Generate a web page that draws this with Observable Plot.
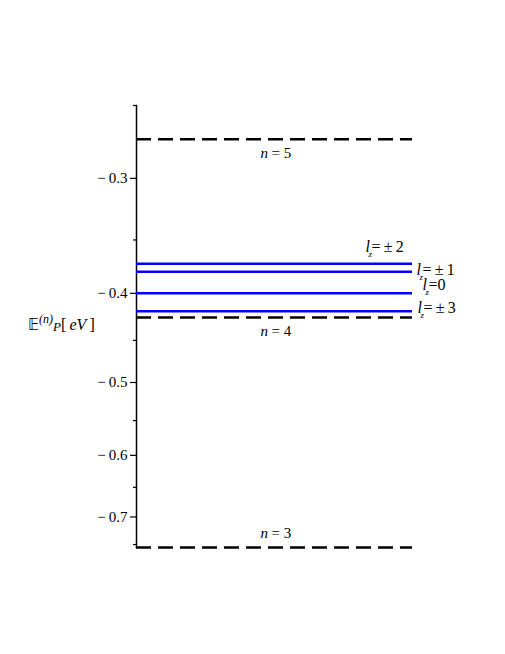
<!DOCTYPE html>
<html><head><meta charset="utf-8">
<script src="https://cdn.jsdelivr.net/npm/d3@7"></script>
<script src="https://cdn.jsdelivr.net/npm/@observablehq/plot@0.6"></script>
<style>
body{margin:0;background:#fff}
#wrap{position:relative;width:505px;height:654px}
#chart svg, #chart svg text{font-family:'Liberation Serif','Times New Roman',serif !important}
#ytitle{position:absolute;left:28px;top:313px;font-family:'Liberation Serif','Times New Roman',serif;font-size:16px;color:#000;white-space:nowrap;line-height:1}
#ytitle .bb{font-family:'DejaVu Sans',serif;font-size:15px}
#ytitle i{font-style:italic}
#ytitle sup{font-size:12px;vertical-align:7px}
#ytitle .p{font-size:13px;vertical-align:-1px}
</style>
</head><body>
<div id="wrap"><div id="chart"></div>
<div id="ytitle"><span class="bb">𝔼</span><sup><i>(n)</i></sup><i class="p">P</i>[&#8201;<i>eV</i>&#8201;]</div>
</div>
<script>
// Unperturbed positronium levels E_n [eV]
const levelN = [5, 4, 3];
const levelE = [-0.272, -0.425, -0.7556];
// Split sublevels near n = 4, by l_z
const splitLz = ["±2", "±1", "0", "±3"];
const splitE = [-0.3715, -0.3789, -0.400, -0.4184];
// Axis ticks
const majorTicks = [-0.3, -0.4, -0.5, -0.6, -0.7];
const minorTicks = [-0.25, -0.35, -0.45, -0.55, -0.65, -0.75];
const axisTopE = -0.25;

function lzLabel(i, opts) {
  const d = [splitE[i]];
  const base = {y: d => d, textAnchor: "start", fontSize: 16, fill: "black", ...opts.pos};
  const val = splitLz[i];
  const rest = val === "0" ? "=0" : "=\u2009" + val.replace("±", "±\u2009");
  return [
    Plot.text(d, {...base, text: () => "l", fontStyle: "italic", dx: opts.dx, dy: opts.dy}),
    Plot.text(d, {...base, text: () => "z", fontStyle: "italic", fontSize: 9, dx: opts.dx + 3, dy: opts.dy + 7}),
    Plot.text(d, {...base, text: () => rest, dx: opts.dx + 6, dy: opts.dy})
  ];
}

const chart = Plot.plot({
  width: 505,
  height: 654,
  marginLeft: 136,
  marginRight: 93,
  marginTop: 105,
  marginBottom: 107,
  style: {fontSize: "14px", background: "white", color: "black", overflow: "visible"},
  x: {domain: [0, 1], axis: null},
  y: {type: "log", domain: [levelE[2], axisTopE]},
  marks: [
    Plot.axisY({ticks: minorTicks, tickSize: 3, tickFormat: () => "", label: null, strokeWidth: 1.2}),
    Plot.axisY({ticks: majorTicks, tickSize: 6, tickPadding: 3, tickFormat: d => "−\u2009" + Math.abs(d).toFixed(1), label: null, fontSize: 15, strokeWidth: 1.2}),
    Plot.frame({anchor: "left", strokeWidth: 1.5}),
    Plot.ruleY(splitE, {stroke: "#0000ff", strokeWidth: 2.5}),
    Plot.ruleY(levelE, {stroke: "black", strokeWidth: 2.5, strokeDasharray: "15,7"}),
    // n labels
    Plot.text(levelE.slice(0, 2), {y: d => d, frameAnchor: "middle", text: () => "n", fontStyle: "italic", textAnchor: "start", dx: -14, dy: 14, fontSize: 15}),
    Plot.text(levelE.slice(0, 2), {y: d => d, frameAnchor: "middle", text: (d, i) => "= " + levelN[i], textAnchor: "start", dx: -3, dy: 14, fontSize: 15}),
    Plot.text(levelE.slice(2), {y: d => d, frameAnchor: "middle", text: () => "n", fontStyle: "italic", textAnchor: "start", dx: -14, dy: -14, fontSize: 15}),
    Plot.text(levelE.slice(2), {y: d => d, frameAnchor: "middle", text: () => "= " + levelN[2], textAnchor: "start", dx: -3, dy: -14, fontSize: 15}),
    // l_z labels
    ...lzLabel(0, {pos: {x: () => 0.83}, dx: 0, dy: -17}),
    ...lzLabel(1, {pos: {frameAnchor: "right"}, dx: 4, dy: -2}),
    ...lzLabel(2, {pos: {frameAnchor: "right"}, dx: 10, dy: -8}),
    ...lzLabel(3, {pos: {frameAnchor: "right"}, dx: 5, dy: -3})
  ]
});
document.getElementById("chart").append(chart);
</script>
</body></html>
